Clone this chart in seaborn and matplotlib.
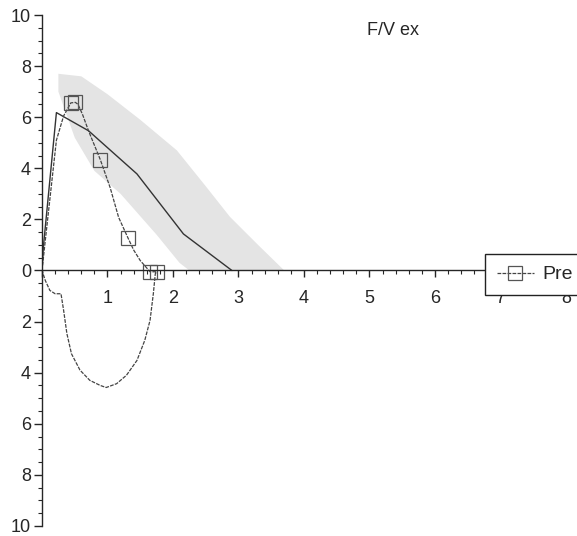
import numpy as np
import pandas as pd
import seaborn as sns
import matplotlib.pyplot as plt
from matplotlib.ticker import MultipleLocator, FuncFormatter

# predicted expiratory curve
pred_vol = [0, 0.02, 0.22, 0.71, 1.45, 2.16, 2.9]
pred_flow = [0, 0.9, 6.18, 5.47, 3.78, 1.43, 0]

# normal range band around the prediction
band_hi_vol = [0.25, 0.6, 1.0, 1.5, 2.06, 2.5, 2.87, 3.3, 3.7]
band_hi_flow = [7.7, 7.6, 6.9, 5.9, 4.7, 3.3, 2.1, 1.0, 0]
band_lo_vol = [0.25, 0.5, 0.8, 1.2, 1.75, 2.1, 2.25]
band_lo_flow = [7.0, 5.2, 3.9, 3.0, 1.4, 0.3, 0]

# measured loop (Pre): expiration then inspiration
pre_vol = [0, 0.05, 0.22, 0.33, 0.44, 0.51, 0.55, 0.62, 0.71, 0.89, 1.04, 1.17,
           1.31, 1.4, 1.5, 1.65, 1.75,
           1.73, 1.70, 1.65, 1.57, 1.45, 1.29, 1.14, 0.98, 0.89, 0.73, 0.58,
           0.45, 0.38, 0.33, 0.29, 0.2, 0.12, 0.05, 0]
pre_flow = [0, 1.17, 5.1, 6.05, 6.56, 6.58, 6.5, 6.1, 5.47, 4.34, 3.25, 2.08,
            1.29, 0.8, 0.39, -0.05, -0.05,
            -0.13, -0.91, -1.95, -2.73, -3.52, -4.1, -4.43, -4.58, -4.5, -4.3, -3.9,
            -3.26, -2.47, -1.56, -0.91, -0.91, -0.78, -0.39, 0]
pre_marks = [4, 5, 9, 12, 15, 16]

sns.set_style("ticks")
plt.rcParams['font.family'] = ['Liberation Sans', 'DejaVu Sans']

fig = plt.figure(figsize=(5.77, 5.36), dpi=100)
ax = fig.add_axes([0.0728, 0.0187, 0.9272, 0.9533])

band_x = band_hi_vol + band_lo_vol[::-1]
band_y = band_hi_flow + band_lo_flow[::-1]
ax.fill(band_x, band_y, color='#e4e4e4', lw=0, zorder=0)

pred = pd.DataFrame({'vol': pred_vol, 'flow': pred_flow})
sns.lineplot(data=pred, x='vol', y='flow', sort=False, estimator=None,
             color='#333333', lw=1.0, ax=ax)

pre = pd.DataFrame({'vol': pre_vol, 'flow': pre_flow})
sns.lineplot(data=pre, x='vol', y='flow', sort=False, estimator=None,
             color='#444444', lw=0.9, ls=(0, (3, 1)), marker='s', markersize=10,
             markerfacecolor='none', markeredgecolor='#555555', markeredgewidth=0.9,
             markevery=pre_marks, ax=ax)

ax.set_xlim(0, 8.17)
ax.set_ylim(-10, 10)
ax.set_xlabel('')
ax.set_ylabel('')

for s in ['top', 'right']:
    ax.spines[s].set_visible(False)
ax.spines['bottom'].set_position(('data', 0))
ax.spines['left'].set_linewidth(1.0)
ax.spines['bottom'].set_linewidth(1.0)

ax.xaxis.set_major_locator(MultipleLocator(1))
ax.xaxis.set_minor_locator(MultipleLocator(0.2))
ax.yaxis.set_major_locator(MultipleLocator(2))
ax.yaxis.set_minor_locator(MultipleLocator(0.5))
ax.xaxis.set_major_formatter(FuncFormatter(lambda v, p: '' if v == 0 else f'{v:g}'))
ax.yaxis.set_major_formatter(FuncFormatter(lambda v, p: f'{abs(v):g}'))
ax.tick_params(axis='x', which='major', direction='out', length=5, width=1, pad=9, labelsize=13)
ax.tick_params(axis='x', which='minor', direction='out', length=3, width=0.8)
ax.tick_params(axis='y', which='major', direction='out', length=6, width=1, pad=2, labelsize=13)
ax.tick_params(axis='y', which='minor', direction='out', length=3, width=0.8)

ax.text(5.36, 9.4, 'F/V ex', fontsize=13, ha='center', va='center')

handle = ax.get_lines()[1]
fig.legend([handle], ['Pre'], loc='upper left', bbox_to_anchor=(0.8406, 0.526),
           bbox_transform=fig.transFigure, borderaxespad=0, frameon=True,
           fancybox=False, edgecolor='#222222', framealpha=1, fontsize=14,
           handlelength=1.9, handletextpad=0.45, borderpad=0.6)

fig.savefig('out.png', dpi=100)
